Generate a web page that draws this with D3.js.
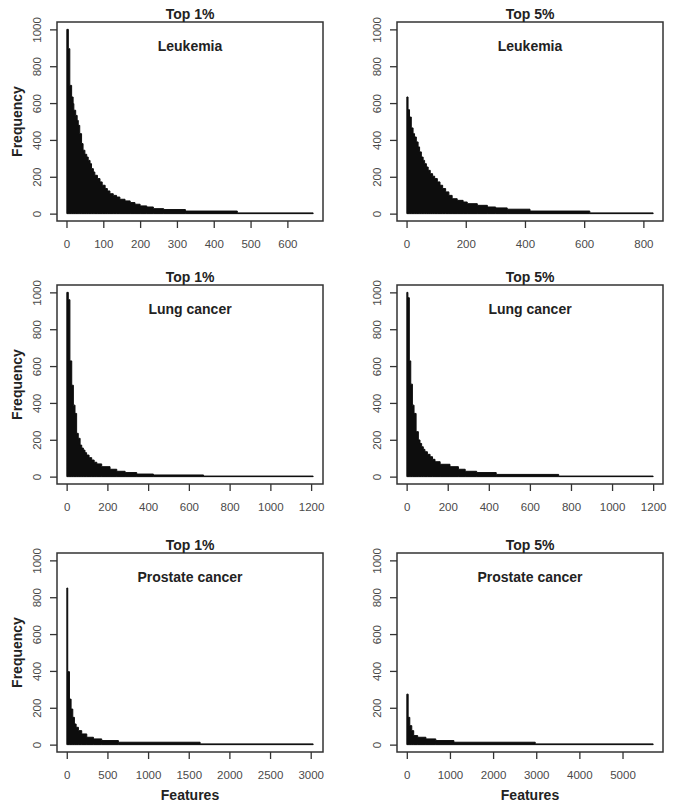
<!DOCTYPE html>
<html>
<head>
<meta charset="utf-8">
<script src="https://cdn.jsdelivr.net/npm/d3@7/dist/d3.min.js"></script>
<style>
body { margin: 0; background: #fff; }
text { font-family: "Liberation Sans", Arial, Helvetica, sans-serif; }
</style>
</head>
<body>
<svg id="chart" width="674" height="803"></svg>
<script>
// step curves: feature index where a level starts, and its frequency
var leuk1X = [1, 5, 9, 14, 18, 20, 25, 29, 32, 36, 41, 45, 50, 55, 59, 64, 68, 73, 77, 84, 91, 97, 105, 111, 118, 127, 136, 145, 159, 173, 186, 200, 218, 236, 264, 323, 464, 670];
var leuk1Y = [1000, 895, 696, 633, 597, 561, 533, 506, 479, 434, 380, 344, 322, 307, 289, 271, 244, 226, 208, 190, 172, 154, 136, 123, 108, 99, 90, 78, 69, 60, 51, 42, 36, 27, 22, 14, 4, 4];
var leuk5X = [1, 5, 10, 16, 22, 27, 33, 39, 44, 50, 56, 61, 67, 73, 80, 88, 95, 104, 113, 122, 132, 143, 154, 171, 191, 205, 239, 273, 301, 340, 417, 619, 833];
var leuk5Y = [633, 564, 524, 465, 434, 416, 389, 362, 335, 307, 289, 271, 253, 235, 217, 203, 190, 172, 154, 136, 118, 99, 81, 72, 63, 54, 45, 36, 31, 24, 14, 4, 4];
var lung1X = [1, 8, 16, 25, 33, 41, 49, 57, 66, 74, 82, 90, 98, 110, 123, 135, 148, 172, 213, 246, 287, 344, 426, 672, 1210];
var lung1Y = [1000, 960, 628, 496, 388, 343, 235, 208, 171, 155, 144, 130, 117, 103, 90, 78, 69, 54, 40, 29, 22, 14, 9, 3, 3];
var lung5X = [1, 6, 13, 20, 28, 36, 46, 57, 65, 73, 81, 89, 101, 114, 126, 138, 163, 211, 252, 285, 341, 436, 740, 1200];
var lung5Y = [1000, 971, 628, 502, 388, 343, 244, 199, 180, 162, 148, 135, 121, 108, 94, 81, 67, 54, 40, 29, 22, 12, 3, 3];
var pros1X = [1, 12, 33, 53, 74, 94, 115, 143, 184, 246, 328, 430, 635, 1640, 3030];
var pros1Y = [850, 396, 247, 193, 148, 112, 94, 76, 58, 40, 31, 22, 13, 4, 4];
var pros5X = [1, 31, 69, 115, 160, 252, 443, 672, 1092, 2977, 5710];
var pros5Y = [274, 148, 103, 76, 49, 40, 31, 22, 13, 4, 4];

var titles = ["Top 1%", "Top 5%"];
var datasets = ["Leukemia", "Lung cancer", "Prostate cancer"];
var yTicks = [0, 200, 400, 600, 800, 1000];
var xTicks = [
    [0, 100, 200, 300, 400, 500, 600], [0, 200, 400, 600, 800],
    [0, 200, 400, 600, 800, 1000, 1200], [0, 200, 400, 600, 800, 1000, 1200],
    [0, 500, 1000, 1500, 2000, 2500, 3000], [0, 1000, 2000, 3000, 4000, 5000]
];
var seriesX = [leuk1X, leuk5X, lung1X, lung5X, pros1X, pros5X];
var seriesY = [leuk1Y, leuk5Y, lung1Y, lung5Y, pros1Y, pros5Y];

var svg = d3.select("#chart");
var boxLeft = [57, 397];
var boxTop = [22, 285, 553];
var boxW = 266, boxH = 199;
var ink = "#222";

function drawPanel(i) {
    var col = i % 2, row = Math.floor(i / 2);
    var xs = seriesX[i], ys = seriesY[i];
    var bx = boxLeft[col], by = boxTop[row];
    var lo = xs[0], hi = xs[xs.length - 1], pad = (hi - lo) * 0.04;
    var x = d3.scaleLinear().domain([lo - pad, hi + pad]).range([bx, bx + boxW]);
    var y = d3.scaleLinear().domain([-40, 1040]).range([by + boxH, by]);
    var g = svg.append("g");

    var pts = xs.map(function (v, k) { return [v, ys[k]]; });
    var area = d3.area()
        .x(function (d) { return x(d[0]); })
        .y0(y(0))
        .y1(function (d) { return y(d[1]); })
        .curve(d3.curveStepAfter);
    g.append("path").datum(pts)
        .attr("d", area)
        .attr("fill", "#0d0d0d")
        .attr("stroke", "#0d0d0d")
        .attr("stroke-width", 1);

    g.append("rect")
        .attr("x", bx).attr("y", by)
        .attr("width", boxW).attr("height", boxH)
        .attr("fill", "none").attr("stroke", "#333").attr("stroke-width", 1.5);

    var xAxis = d3.axisBottom(x).tickValues(xTicks[i]).tickSize(7).tickPadding(12).tickFormat(d3.format("d"));
    var ax = g.append("g").attr("transform", "translate(0," + (by + boxH) + ")").call(xAxis);
    ax.select(".domain").remove();
    ax.selectAll("line").attr("stroke", "#333").attr("stroke-width", 1.3);
    ax.selectAll("text").attr("font-size", 11.5).attr("fill", "#4a4a4a")
        .style("font-family", "'Liberation Sans', Arial, sans-serif");

    var yAxis = d3.axisLeft(y).tickValues(yTicks).tickSize(7).tickPadding(0).tickFormat(d3.format("d"));
    var ay = g.append("g").attr("transform", "translate(" + bx + ",0)").call(yAxis);
    ay.select(".domain").remove();
    ay.selectAll("line").attr("stroke", "#333").attr("stroke-width", 1.3);
    ay.selectAll("text").attr("font-size", 11.5).attr("fill", "#4a4a4a")
        .style("font-family", "'Liberation Sans', Arial, sans-serif")
        .attr("x", null).attr("dy", null)
        .attr("text-anchor", "middle")
        .attr("transform", "translate(-16,0) rotate(-90)");

    g.append("text").attr("x", bx + boxW / 2).attr("y", by - 3)
        .attr("text-anchor", "middle").attr("font-size", 14).attr("font-weight", "bold")
        .attr("fill", ink).text(titles[col]);
    g.append("text").attr("x", bx + boxW / 2).attr("y", by + 29)
        .attr("text-anchor", "middle").attr("font-size", 14).attr("font-weight", "bold")
        .attr("fill", ink).text(datasets[row]);

    if (col === 0) {
        g.append("text")
            .attr("transform", "translate(22," + (by + boxH / 2) + ") rotate(-90)")
            .attr("text-anchor", "middle").attr("font-size", 14).attr("font-weight", "bold")
            .attr("fill", ink).text("Frequency");
    }
    if (row === 2) {
        g.append("text").attr("x", bx + boxW / 2).attr("y", by + boxH + 48)
            .attr("text-anchor", "middle").attr("font-size", 14).attr("font-weight", "bold")
            .attr("fill", ink).text("Features");
    }
}

for (var i = 0; i < 6; i++) drawPanel(i);
</script>
</body>
</html>
